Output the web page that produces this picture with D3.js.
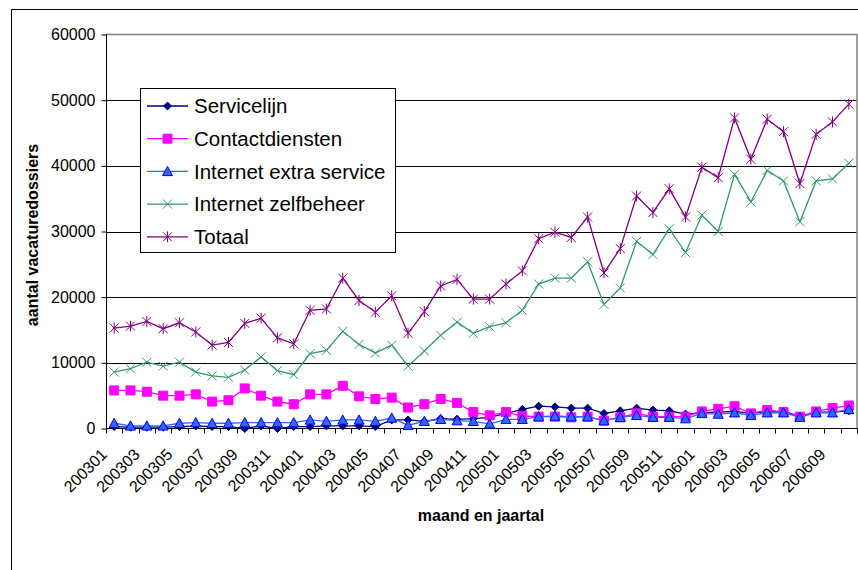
<!DOCTYPE html>
<html><head><meta charset="utf-8">
<script src="https://cdn.jsdelivr.net/npm/d3@7"></script>
<style>
body{margin:0;background:#fff}
svg{display:block}
text{font-family:"Liberation Sans",Arial,Helvetica,sans-serif;fill:#000}
</style>
</head><body>
<svg id="chart" width="858" height="570"></svg>
<script>
// ---------- DATA ----------
const months = ["200301","200302","200303","200304","200305","200306","200307","200308","200309","200310","200311","200312",
"200401","200402","200403","200404","200405","200406","200407","200408","200409","200410","200411","200412",
"200501","200502","200503","200504","200505","200506","200507","200508","200509","200510","200511","200512",
"200601","200602","200603","200604","200605","200606","200607","200608","200609","200610"];
const xTickLabels = ["200301","200303","200305","200307","200309","200311","200401","200403","200405","200407","200409","200411",
"200501","200503","200505","200507","200509","200511","200601","200603","200605","200607","200609"];
const yTickValues = [0,10000,20000,30000,40000,50000,60000];

const servicelijn = [300,200,200,200,300,400,300,300,0,400,0,300,
300,400,400,400,300,1300,1300,1100,1500,1400,1500,1700,
2300,2900,3400,3300,3100,3100,2300,2700,3100,2800,2700,2200,
2400,2500,2600,2300,2600,2600,1900,2500,2500,2700];
const contactdiensten = [5800,5800,5600,5000,5000,5200,4100,4300,6100,5000,4100,3700,
5200,5200,6500,4900,4500,4700,3200,3700,4500,3900,2500,2000,
2500,1900,1800,1800,1700,1800,1200,1700,2300,1800,1800,1800,
2600,3000,3400,2300,2800,2500,1800,2600,3100,3500];
const internetExtraService = [800,400,400,400,800,900,800,800,900,900,900,900,
1300,1100,1300,1300,1100,1600,500,1100,1400,1200,1100,700,
1400,1400,1800,1900,1800,1800,1200,1700,2000,1700,1700,1500,
2300,2200,2400,2000,2400,2400,1700,2400,2400,2900];
const internetZelfbeheer = [8600,9100,10100,9500,10100,8600,8000,7800,8900,10900,8800,8200,
11400,11900,14800,12800,11500,12700,9500,11800,14200,16200,14500,15500,
16100,18000,22000,22900,22900,25400,18900,21400,28500,26500,30400,26800,
32500,30000,38700,34500,39300,37700,31500,37700,38000,40400];
const totaal = [15300,15600,16300,15200,16100,14700,12700,13100,16000,16800,13800,12900,
18000,18200,22900,19500,17700,20200,14500,17800,21700,22700,19700,19700,
22000,24000,28900,29900,29100,32200,23700,27400,35400,32900,36500,32200,
39800,38200,47300,41000,47100,45200,37300,44800,46700,49400];
const seriesNames = ["Servicelijn","Contactdiensten","Internet extra service","Internet zelfbeheer","Totaal"];
const xTitle = "maand en jaartal";
const yTitle = "aantal vacaturedossiers";

// ---------- STYLES ----------
const styles = [
  {line:"#000080", marker:"diamond", fill:"#000080", stroke:"#000080"},
  {line:"#ff00ff", marker:"square", fill:"#ff00ff", stroke:"#ff00ff"},
  {line:"#3366ff", marker:"triangle", fill:"#3366ff", stroke:"#0000ff"},
  {line:"#339966", marker:"x", fill:"none", stroke:"#339966"},
  {line:"#800080", marker:"star", fill:"none", stroke:"#800080"}
];
const values = [servicelijn, contactdiensten, internetExtraService, internetZelfbeheer, totaal];
const series = seriesNames.map((n,i)=>({name:n, values:values[i], ...styles[i]}));

// ---------- LAYOUT ----------
const svg = d3.select("#chart");
const L = 106, R = 857, T = 34.5, B = 428.5;
const x = d3.scaleBand().domain(months).range([L, R]).paddingInner(0).paddingOuter(0);
const bw = x.bandwidth();
const cx = m => x(m) + bw/2;
const y = d3.scaleLinear().domain([0,60000]).range([B, T]);

// outer chart frame
svg.append("rect").attr("x",11.5).attr("y",9.5).attr("width",900).attr("height",700)
  .attr("fill","#fff").attr("stroke","#000").attr("stroke-width",1);

// gridlines
svg.append("g").selectAll("line").data(yTickValues.filter(v=>v>0 && v<60000)).join("line")
  .attr("x1",L).attr("x2",R)
  .attr("y1",d=>Math.round(y(d))+0.5).attr("y2",d=>Math.round(y(d))+0.5)
  .attr("stroke","#000").attr("stroke-width",1);

// plot area border (top & right gray)
svg.append("path").attr("d",`M${L},${T}H${R}V${B}`).attr("fill","none")
  .attr("stroke","#808080").attr("stroke-width",1.5);

// Y axis
const yAxis = svg.append("g").attr("transform",`translate(${L+0.5},0)`)
  .call(d3.axisLeft(y).tickValues(yTickValues).tickFormat(d3.format("d")).tickSize(5).tickPadding(6));
yAxis.select(".domain").attr("stroke","#000").attr("d",`M0,${T}V${B}`);
yAxis.selectAll(".tick line").attr("stroke","#000");
yAxis.selectAll(".tick text").style("font-size","16px").attr("fill","#000");

// X axis (labels)
const xAxis = svg.append("g").attr("transform",`translate(0,${B})`)
  .call(d3.axisBottom(x).tickValues(xTickLabels).tickSize(0));
xAxis.select(".domain").remove();
xAxis.selectAll(".tick text")
  .attr("x",0).attr("y",0).attr("dy",0)
  .attr("transform","translate(-6,27) rotate(-45)")
  .style("text-anchor","end").style("font-size","16px").attr("fill","#000");
// X axis line and boundary ticks
svg.append("line").attr("x1",L).attr("x2",R).attr("y1",B).attr("y2",B).attr("stroke","#000");
svg.append("g").selectAll("line").data(months.concat(["__end"])).join("line")
  .attr("x1",d=>Math.round(d==="__end"?R:x(d))+0.5).attr("x2",d=>Math.round(d==="__end"?R:x(d))+0.5)
  .attr("y1",B).attr("y2",B+5).attr("stroke","#000");

// axis titles
svg.append("text").attr("x",481).attr("y",521).attr("text-anchor","middle")
  .style("font-size","16px").style("font-weight","bold").text(xTitle);
svg.append("text").attr("transform","translate(38,235) rotate(-90)").attr("text-anchor","middle")
  .style("font-size","16px").style("font-weight","bold").text(yTitle);

// ---------- MARKERS ----------
function markerPath(type){
  switch(type){
    case "diamond": return "M0,-4L4,0L0,4L-4,0Z";
    case "square": return "M-4.5,-4.5H4.5V4.5H-4.5Z";
    case "triangle": return "M0,-5L5,4.2L-5,4.2Z";
    case "x": return "M-4.5,-4.5L4.5,4.5M4.5,-4.5L-4.5,4.5";
    case "star": return "M-4.5,-4.5L4.5,4.5M4.5,-4.5L-4.5,4.5M0,-5.5V5.5";
  }
}

const line = d3.line().x((d,i)=>cx(months[i])).y(d=>y(d));
const plot = svg.append("g");
series.forEach(s=>{
  const g = plot.append("g");
  g.append("path").datum(s.values).attr("d",line).attr("fill","none")
    .attr("stroke",s.line).attr("stroke-width",1.3);
  g.selectAll("path.m").data(s.values).join("path").attr("class","m")
    .attr("transform",(d,i)=>`translate(${cx(months[i])},${y(d)})`)
    .attr("d",markerPath(s.marker)).attr("fill",s.fill).attr("stroke",s.stroke)
    .attr("stroke-width",1);
});

// ---------- LEGEND ----------
const lg = svg.append("g");
lg.append("rect").attr("x",140.5).attr("y",88.5).attr("width",255).attr("height",164)
  .attr("fill","#fff").attr("stroke","#000").attr("stroke-width",1);
const rowY = i => 106 + i*32.7;
series.forEach((s,i)=>{
  const gy = rowY(i);
  lg.append("line").attr("x1",147).attr("x2",188).attr("y1",gy).attr("y2",gy)
    .attr("stroke",s.line).attr("stroke-width",1.3);
  lg.append("path").attr("transform",`translate(167.5,${gy})`).attr("d",markerPath(s.marker))
    .attr("fill",s.fill).attr("stroke",s.stroke).attr("stroke-width",1);
  lg.append("text").attr("x",194).attr("y",gy).attr("dy","0.36em")
    .style("font-size","20.5px").text(s.name);
});
</script>
</body></html>
